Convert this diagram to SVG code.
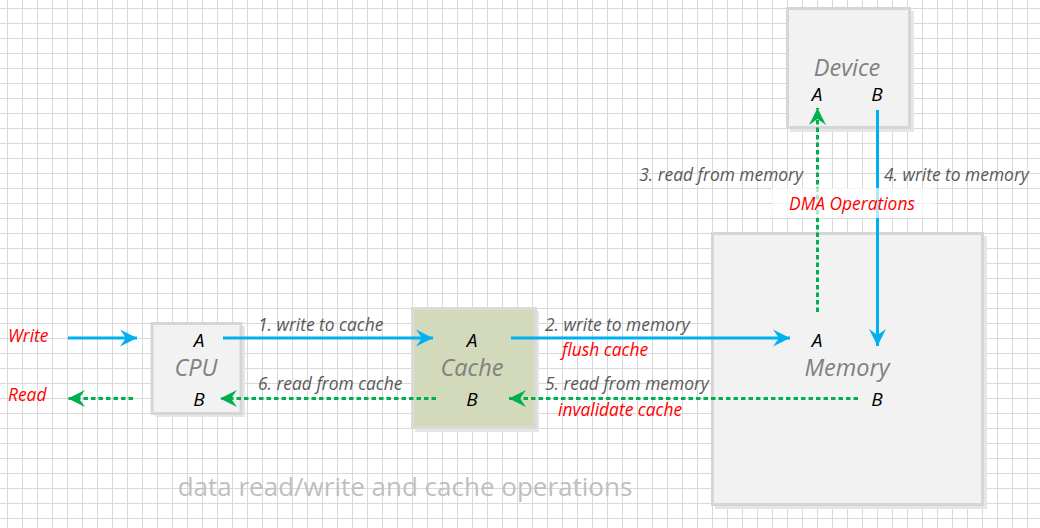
<svg xmlns="http://www.w3.org/2000/svg" width="1040" height="528" viewBox="0 0 1040 528">
<defs>
<pattern id="grid" x="0" y="0" width="15" height="15" patternUnits="userSpaceOnUse">
<path d="M7.5,0 V15 M0,8.5 H15" stroke="#d9d9d9" stroke-width="1" fill="none"/>
</pattern>
<marker id="ab" markerUnits="userSpaceOnUse" markerWidth="20" markerHeight="20" viewBox="-18 -10 20 20" refX="0" refY="0" orient="auto">
<path d="M0,0 L-17,-8.5 L-11,0 L-17,8.5 Z" fill="#00b0f0"/>
</marker>
<marker id="ag" markerUnits="userSpaceOnUse" markerWidth="20" markerHeight="20" viewBox="-18 -10 20 20" refX="0" refY="0" orient="auto">
<path d="M0,0 L-17,-8.5 L-11,0 L-17,8.5 Z" fill="#00b050"/>
</marker>
</defs>
<style>
.box{fill:#f2f2f2;stroke:#d6d6d6;stroke-width:3}
.sh{fill:#e6e6e6}
.title{font-family:"Open Sans","Noto Sans",sans-serif;font-style:italic;font-size:23.5px;fill:#808080;text-anchor:middle}
.port{font-family:"Open Sans","Noto Sans",sans-serif;font-style:italic;font-size:19px;fill:#000;text-anchor:middle}
.lbl{font-family:"Open Sans","Noto Sans",sans-serif;font-style:italic;font-size:17.4px;fill:#595959}
.red{font-family:"Open Sans","Noto Sans",sans-serif;font-style:italic;font-size:17.4px;fill:#ff0000}
.blue{stroke:#00b0f0;stroke-width:3;fill:none;marker-end:url(#ab)}
.green{stroke:#00b050;stroke-width:3;fill:none;stroke-dasharray:4.5 3;marker-end:url(#ag)}
</style>
<rect width="1040" height="528" fill="#ffffff"/>
<rect width="1040" height="528" fill="url(#grid)"/>

<g id="cpu">
<rect class="sh" x="155" y="326" width="90" height="91"/>
<rect class="box" x="152" y="323.5" width="89" height="90"/>
<text class="port" x="199" y="347">A</text>
<text class="title" x="196" y="376">CPU</text>
<text class="port" x="199" y="406">B</text>
</g>

<g id="cache">
<rect class="sh" x="415" y="311" width="124" height="121"/>
<rect x="412.5" y="308.5" width="123" height="119" fill="#d3d9bb" stroke="#dadada" stroke-width="3"/>
<text class="port" x="472" y="347">A</text>
<text class="title" x="472" y="376">Cache</text>
<text class="port" x="472" y="406">B</text>
</g>

<g id="memory">
<rect class="sh" x="715" y="236" width="272" height="273"/>
<rect class="box" x="712.5" y="233.5" width="270" height="271"/>
<text class="port" x="817" y="347">A</text>
<text class="title" x="847" y="376">Memory</text>
<text class="port" x="877" y="406">B</text>
</g>

<g id="device">
<rect class="sh" x="790" y="11" width="124" height="121"/>
<rect class="box" x="787.5" y="8.5" width="122" height="119"/>
<text class="title" x="847" y="76">Device</text>
<text class="port" x="817" y="101">A</text>
<text class="port" x="877" y="101">B</text>
</g>

<g id="connectors">
<line class="blue" x1="68" y1="338" x2="137" y2="338"/>
<line class="green" x1="133" y1="398.5" x2="68" y2="398.5"/>
<line class="blue" x1="223" y1="338" x2="433" y2="338"/>
<line class="green" x1="436" y1="398.5" x2="220" y2="398.5"/>
<line class="blue" x1="511" y1="338" x2="790" y2="338"/>
<line class="green" x1="858" y1="398.5" x2="509" y2="398.5"/>
<line class="green" x1="817.5" y1="312" x2="817.5" y2="108"/>
<line class="blue" x1="877.5" y1="110" x2="877.5" y2="346"/>
</g>

<g id="labels">
<text class="red" x="8" y="342">Write</text>
<text class="red" x="8" y="401">Read</text>
<text class="lbl" x="258" y="331">1. write to cache</text>
<text class="lbl" x="258" y="390">6. read from cache</text>
<text class="lbl" x="545" y="331">2. write to memory</text>
<text class="red" x="562" y="356">flush cache</text>
<text class="lbl" x="545" y="390">5. read from memory</text>
<text class="red" x="558" y="416">invalidate cache</text>
<text class="lbl" x="803" y="181" text-anchor="end">3. read from memory</text>
<text class="lbl" x="884" y="181">4. write to memory</text>
<rect x="772" y="188" width="163" height="30" fill="#ffffff" opacity="0.7"/>
<text class="red" x="852" y="210" text-anchor="middle">DMA Operations</text>
</g>

<text x="405" y="496" text-anchor="middle" font-family="'Open Sans','Noto Sans',sans-serif" font-size="26" fill="#bfbfbf">data read/write and cache operations</text>
</svg>
